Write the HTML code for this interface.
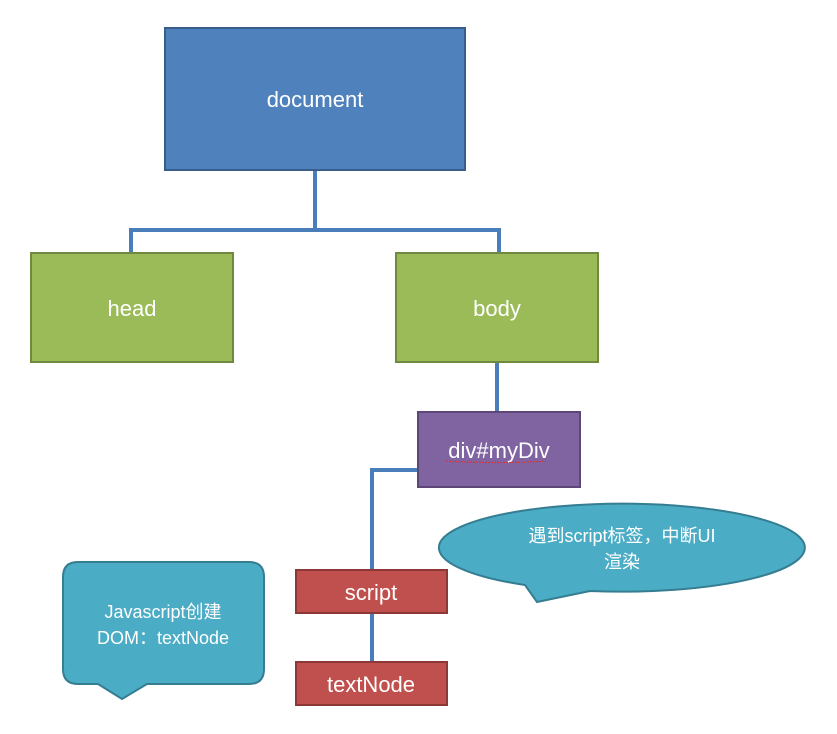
<!DOCTYPE html>
<html><head><meta charset="utf-8"><style>
body{margin:0;background:#fff}
svg text{font-family:"Liberation Sans","Noto Sans CJK SC",sans-serif;fill:#fff}
</style></head><body>
<svg width="837" height="729" xmlns="http://www.w3.org/2000/svg">
<g stroke="#4a7ebb" stroke-width="4" fill="none">
<path d="M315 170V230M131 253V230H499V253"/>
<path d="M497 362V412"/>
<path d="M418 470H372V570"/>
<path d="M372 613V662"/>
</g>
<rect x="165" y="28" width="300" height="142" fill="#4f81bd" stroke="#385d8a" stroke-width="2"/>
<text x="315" y="107" font-size="22" text-anchor="middle">document</text>
<rect x="31" y="253" width="202" height="109" fill="#9bbb59" stroke="#71893f" stroke-width="2"/>
<text x="132" y="316" font-size="22" text-anchor="middle">head</text>
<rect x="396" y="253" width="202" height="109" fill="#9bbb59" stroke="#71893f" stroke-width="2"/>
<text x="497" y="316" font-size="22" text-anchor="middle">body</text>
<rect x="418" y="412" width="162" height="75" fill="#8064a2" stroke="#5c4776" stroke-width="2"/>
<text x="499" y="458" font-size="22" text-anchor="middle">div#myDiv</text>
<path d="M446 461Q499 464 546 461" stroke="#e03030" stroke-width="1" stroke-dasharray="2 1" fill="none"/>
<rect x="296" y="570" width="151" height="43" fill="#c0504d" stroke="#8c3836" stroke-width="2"/>
<text x="371" y="600" font-size="22" text-anchor="middle">script</text>
<rect x="296" y="662" width="151" height="43" fill="#c0504d" stroke="#8c3836" stroke-width="2"/>
<text x="371" y="692" font-size="22" text-anchor="middle">textNode</text>
<path d="M525 585 A183 44 0 1 1 590 591 L537 602 Z" fill="#4bacc6" stroke="#357d91" stroke-width="2"/>
<text x="622" y="542" font-size="18" text-anchor="middle">遇到script标签，中断UI</text>
<text x="622" y="568" font-size="18" text-anchor="middle">渲染</text>
<path d="M78 562H249Q264 562 264 577V669Q264 684 249 684H147L122 699L98 684H78Q63 684 63 669V577Q63 562 78 562Z" fill="#4bacc6" stroke="#357d91" stroke-width="2"/>
<text x="163" y="618" font-size="18" text-anchor="middle">Javascript创建</text>
<text x="163" y="644" font-size="18" text-anchor="middle">DOM：textNode</text>
</svg>
</body></html>
